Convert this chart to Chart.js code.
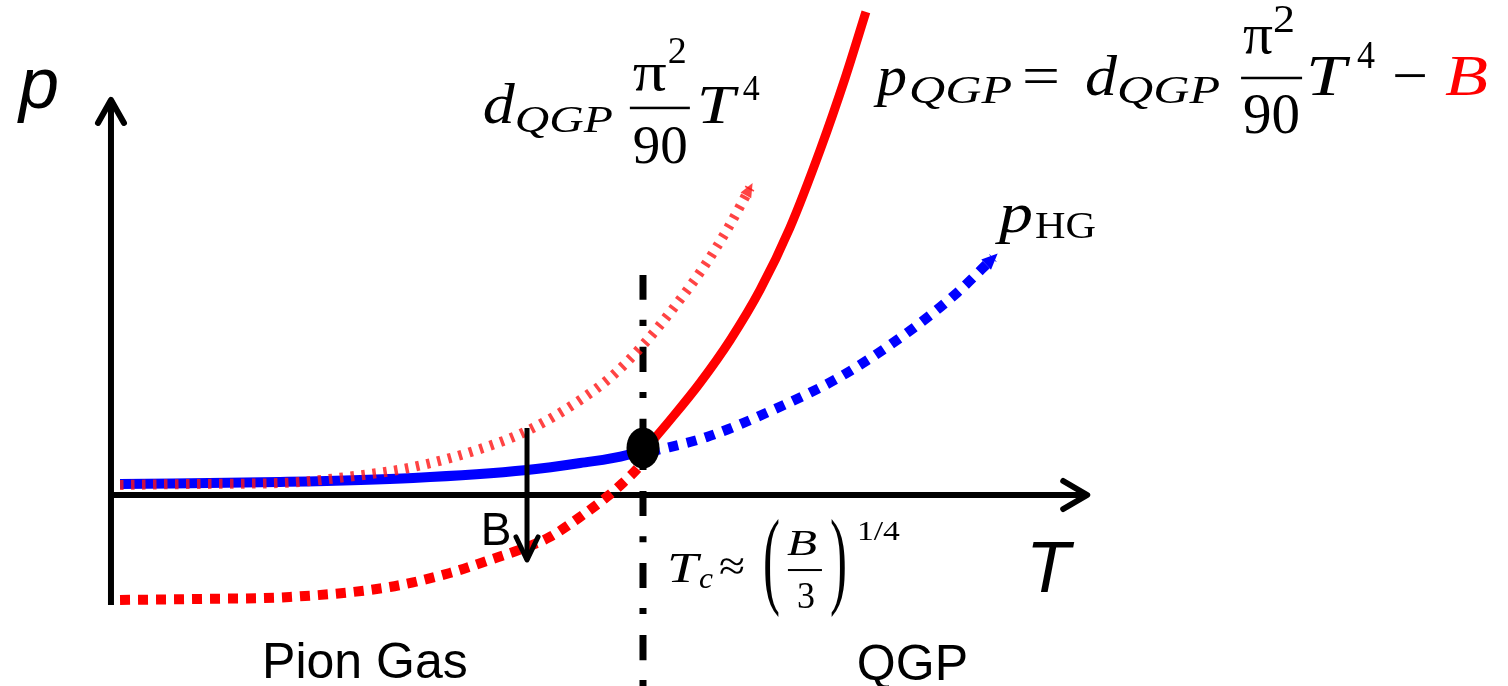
<!DOCTYPE html>
<html lang="fr">
<head>
<meta charset="utf-8">
<title>Pression p(T) : gaz de pions et QGP</title>
<script src="https://cdn.jsdelivr.net/npm/chart.js@4.4.1/dist/chart.umd.min.js"></script>
<style>
  html, body { margin: 0; padding: 0; background: #fff; }
  #graph { display: block; }
</style>
</head>
<body>
<canvas id="graph" width="1508" height="686"></canvas>
<script>
// Unités : T en unités de Tc, p en unités de B

// d_QGP pi^2/90 T^4 (sans la constante de sac)
const tQgpLibre = [0.017, 0.167, 0.318, 0.444, 0.568, 0.694, 0.782, 0.882, 0.944, 1.0, 1.056, 1.113, 1.160, 1.201];
const pQgpLibre = [0.087, 0.096, 0.104, 0.157, 0.243, 0.400, 0.557, 0.826, 1.043, 1.304, 1.617, 1.974, 2.322, 2.670];

// p_QGP = d_QGP pi^2/90 T^4 - B, partie T < Tc (pointillés)
const tQgpBas = [0.017, 0.167, 0.336, 0.524, 0.637, 0.712, 0.782, 0.825, 0.887, 0.932, 0.962, 0.989, 1.0];
const pQgpBas = [-0.913, -0.904, -0.887, -0.800, -0.678, -0.565, -0.452, -0.365, -0.174, -0.017, 0.104, 0.226, 0.287];

// p_QGP, partie T > Tc (trait plein)
const tQgpHaut = [1.0, 1.051, 1.107, 1.164, 1.220, 1.276, 1.333, 1.380, 1.419];
const pQgpHaut = [0.374, 0.652, 0.974, 1.348, 1.783, 2.322, 3.000, 3.626, 4.200];

// p_HG, gaz de pions jusqu'à Tc (trait plein)
const tHgBas = [0.017, 0.318, 0.568, 0.782, 0.882, 0.970, 1.0];
const pHgBas = [0.096, 0.113, 0.148, 0.217, 0.278, 0.348, 0.400];

// p_HG au-delà de Tc (pointillés)
const tHgHaut = [1.013, 1.120, 1.244, 1.370, 1.496, 1.590, 1.658];
const pHgHaut = [0.374, 0.504, 0.739, 1.026, 1.409, 1.757, 2.061];

// point de transition
const tTransition = [1.0];
const pTransition = [0.409];

// axes, flèche B et ligne verticale de Tc
const tAxeP = [0, 0];
const pAxeP = [-0.957, 3.435];
const tAxeT = [-0.005, 1.835];
const pAxeT = [0, 0];
const tFlecheB = [0.782, 0.782];
const pFlecheB = [0.583, -0.565];
const tLigneTc = [1.0, 1.0];
const pLigneTc = [1.913, -1.70];

const ROUGE = '#ff0000';
const BLEU = '#0000ff';
const SANS = '"Liberation Sans", Arial, sans-serif';
const SERIF = '"Liberation Serif", "DejaVu Serif", serif';
const it = n => `italic ${n}px ${SERIF}`;
const rm = n => `${n}px ${SERIF}`;

const pts = (ts, ps) => ts.map((t, i) => ({ x: t, y: ps[i] }));

// point noir légèrement ovale
const ovale = document.createElement('canvas');
ovale.width = 34;
ovale.height = 42;
const oc = ovale.getContext('2d');
oc.fillStyle = '#000';
oc.beginPath();
oc.ellipse(17, 21, 16.5, 20.5, 0, 0, Math.PI * 2);
oc.fill();

// étiquettes simples (texte sans-serif)
const etiquettes = [
  { texte: 'p', T: -0.173, p: 3.365, font: `italic 72px ${SANS}` },
  { texte: 'T', T: 1.720, p: -0.843, font: `italic 72px ${SANS}` },
  { texte: 'B', T: 0.695, p: -0.435, font: `46px ${SANS}` },
  { texte: 'Pion Gas', T: 0.284, p: -1.591, font: `50px ${SANS}` },
  { texte: 'QGP', T: 1.402, p: -1.609, font: `50px ${SANS}` }
];

// formules : morceaux placés par rapport à l'ancre (x en px, dy = décalage de ligne de base)
const formules = [
  { T: 0.699, p: 3.235, morceaux: [
    { t: 'd', x: 0, font: it(56), w: 32 },
    { t: 'QGP', x: 32, dy: 9, font: it(38), w: 98 },
    { t: 'π', x: 150, dy: -33, font: rm(54), w: 34 },
    { t: '2', x: 185, dy: -60, font: rm(38), w: 19 },
    { barre: true, x: 147, dy: -15, w: 60, ep: 2.5 },
    { t: '90', x: 150, dy: 40, font: rm(54), w: 55 },
    { t: 'T', x: 214, font: it(54), w: 38 },
    { t: '4', x: 260, dy: -23, font: rm(36), w: 17 }
  ]},
  { T: 1.440, p: 3.478, morceaux: [
    { t: 'p', x: 0, font: it(58), w: 30 },
    { t: 'QGP', x: 32, dy: 8, font: it(40), w: 103 },
    { t: '=', x: 145, font: rm(58), w: 38 },
    { t: 'd', x: 208, font: it(58), w: 32 },
    { t: 'QGP', x: 240, dy: 8, font: it(40), w: 103 },
    { t: 'π', x: 366, dy: -42, font: rm(56), w: 30 },
    { t: '2', x: 396, dy: -63, font: rm(40), w: 22 },
    { barre: true, x: 364, dy: -17, w: 61, ep: 2.5 },
    { t: '90', x: 366, dy: 38, font: rm(58), w: 57 },
    { t: 'T', x: 429, font: it(58), w: 40 },
    { t: '4', x: 480, dy: -27, font: rm(40), w: 18 },
    { t: '−', x: 515, font: rm(58), w: 36 },
    { t: 'B', x: 568, font: it(58), w: 43, couleur: ROUGE }
  ]},
  { T: 1.669, p: 2.287, morceaux: [
    { t: 'p', x: 0, font: it(56), w: 34 },
    { t: 'HG', x: 36, dy: 6, font: rm(38), w: 61 }
  ]},
  { T: 1.045, p: -0.757, morceaux: [
    { t: 'T', x: 0, font: it(42), w: 31 },
    { t: 'c', x: 32, dy: 6, font: it(30), w: 14 },
    { t: '≈', x: 52, dy: -2, font: rm(42), w: 26 },
    { t: '(', x: 96, dy: 12, font: rm(108), w: 17 },
    { t: 'B', x: 120, dy: -27, font: it(36), w: 30 },
    { barre: true, x: 121, dy: -12, w: 34, ep: 2 },
    { t: '3', x: 130, dy: 26, font: rm(38), w: 18 },
    { t: ')', x: 163, dy: 12, font: rm(108), w: 17 },
    { t: '1/4', x: 190, dy: -42, font: rm(28), w: 43 }
  ]}
];

function dessinerFormule(ctx, x0, y0, morceaux) {
  morceaux.forEach(m => {
    ctx.save();
    if (m.barre) {
      ctx.fillStyle = '#000';
      ctx.fillRect(x0 + m.x, y0 + m.dy - m.ep / 2, m.w, m.ep);
    } else {
      ctx.font = m.font;
      ctx.fillStyle = m.couleur || '#000';
      ctx.textAlign = 'left';
      ctx.textBaseline = 'alphabetic';
      const larg = ctx.measureText(m.t).width;
      ctx.translate(x0 + m.x, y0 + (m.dy || 0));
      if (m.w) ctx.scale(m.w / larg, 1);
      ctx.fillText(m.t, 0, 0);
    }
    ctx.restore();
  });
}

// pointes de flèche au bout des courbes et des axes
const flechesPlugin = {
  id: 'fleches',
  afterDatasetsDraw(chart) {
    const ctx = chart.ctx;
    chart.data.datasets.forEach((ds, i) => {
      if (!ds.fleche) return;
      const el = chart.getDatasetMeta(i).data;
      const a = el[el.length - 2], b = el[el.length - 1];
      const ang = Math.atan2(b.y - a.y, b.x - a.x);
      const L = ds.flecheLong, H = ds.flecheDemi;
      ctx.save();
      ctx.translate(b.x, b.y);
      ctx.rotate(ang);
      ctx.beginPath();
      if (ds.fleche === 'pleine') {
        ctx.moveTo(L * 0.4, 0);
        ctx.lineTo(-L * 0.6, -H);
        ctx.lineTo(-L * 0.6, H);
        ctx.closePath();
        ctx.fillStyle = ds.borderColor;
        ctx.fill();
      } else {
        ctx.moveTo(-L, -H);
        ctx.lineTo(0, 0);
        ctx.lineTo(-L, H);
        ctx.strokeStyle = ds.borderColor;
        ctx.lineWidth = ds.borderWidth;
        ctx.lineCap = 'round';
        ctx.lineJoin = 'round';
        ctx.stroke();
      }
      ctx.restore();
    });
  }
};

const textesPlugin = {
  id: 'textes',
  afterDraw(chart) {
    const ctx = chart.ctx;
    const sx = chart.scales.x, sy = chart.scales.y;
    etiquettes.forEach(e => {
      ctx.save();
      ctx.font = e.font;
      ctx.fillStyle = '#000';
      ctx.textAlign = 'left';
      ctx.textBaseline = 'alphabetic';
      ctx.fillText(e.texte, sx.getPixelForValue(e.T), sy.getPixelForValue(e.p));
      ctx.restore();
    });
    formules.forEach(f => {
      dessinerFormule(ctx, sx.getPixelForValue(f.T), sy.getPixelForValue(f.p), f.morceaux);
    });
  }
};

const ligne = (data, couleur, largeur, ordre, extra) => Object.assign({
  data: data,
  borderColor: couleur,
  backgroundColor: couleur,
  borderWidth: largeur,
  showLine: true,
  pointRadius: 0,
  fill: false,
  cubicInterpolationMode: 'monotone',
  order: ordre
}, extra || {});

new Chart(document.getElementById('graph'), {
  type: 'scatter',
  data: {
    datasets: [
      ligne(pts(tLigneTc, pLigneTc), '#000', 7, 10, { label: 'Tc', borderDash: [25, 20, 6, 21] }),
      ligne(pts(tAxeP, pAxeP), '#000', 6, 9, { label: 'p', fleche: 'ouverte', flecheLong: 23, flecheDemi: 13 }),
      ligne(pts(tAxeT, pAxeT), '#000', 6, 9, { label: 'T', fleche: 'ouverte', flecheLong: 24, flecheDemi: 14 }),
      ligne(pts(tQgpBas, pQgpBas), ROUGE, 10, 7, { label: 'p_QGP (T < Tc)', borderDash: [10, 8] }),
      ligne(pts(tHgBas, pHgBas), BLEU, 10, 6, { label: 'p_HG' }),
      ligne(pts(tQgpLibre, pQgpLibre), 'rgba(255, 20, 20, 0.8)', 10, 5,
        { label: 'd_QGP π²/90 T⁴', borderDash: [3.5, 7.5], fleche: 'pleine', flecheLong: 14, flecheDemi: 6 }),
      ligne(pts(tQgpHaut, pQgpHaut), ROUGE, 9, 4, { label: 'p_QGP' }),
      ligne(pts(tHgHaut, pHgHaut), BLEU, 10, 3,
        { label: 'p_HG (T > Tc)', borderDash: [10, 9], fleche: 'pleine', flecheLong: 16, flecheDemi: 7 }),
      ligne(pts(tFlecheB, pFlecheB), '#000', 5, 2, { label: 'B', fleche: 'ouverte', flecheLong: 23, flecheDemi: 11 }),
      {
        label: 'Tc',
        data: pts(tTransition, pTransition),
        pointStyle: ovale,
        pointRadius: 20,
        showLine: false,
        order: 1
      }
    ]
  },
  options: {
    responsive: false,
    animation: false,
    events: [],
    layout: { padding: 0, autoPadding: false },
    plugins: {
      legend: { display: false },
      tooltip: { enabled: false }
    },
    scales: {
      x: { type: 'linear', display: false, min: -0.2086, max: 2.6259 },
      y: { type: 'linear', display: false, min: -1.661, max: 4.304 }
    }
  },
  plugins: [flechesPlugin, textesPlugin]
});
</script>
</body>
</html>
